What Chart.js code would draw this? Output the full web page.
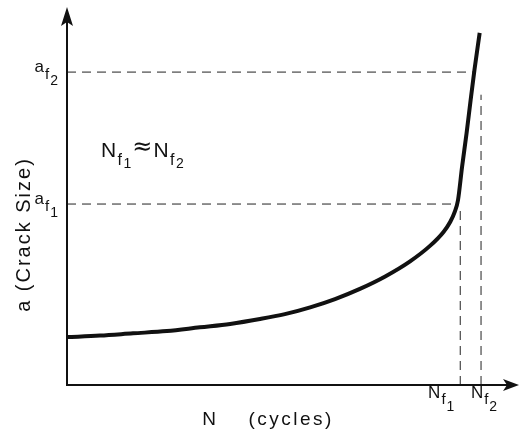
<!DOCTYPE html>
<html>
<head>
<meta charset="utf-8">
<script src="https://cdn.jsdelivr.net/npm/chart.js@4.4.1/dist/chart.umd.min.js"></script>
<style>
  html, body { margin: 0; padding: 0; background: #fff; }
  canvas { display: block; }
</style>
</head>
<body>
<canvas id="c" width="520" height="440"></canvas>
<script>
// Crack growth curve: crack size a against number of cycles N (arbitrary units 0..100)
const cycles    = [0, 7.3, 14.6, 22.1, 29.4, 36.1, 42.7, 48.2, 53.8, 59.3, 64.8, 70.4, 75.9, 80.3, 83.3, 84.8, 85.8, 86.5, 87.4, 88.4, 89.3, 90.15, 91.3];
const crackSize = [12.7, 13.1, 13.7, 14.3, 15.3, 16.2, 17.5, 18.8, 20.6, 22.8, 25.5, 28.8, 32.8, 36.9, 40.6, 43.3, 46.0, 49.0, 57.8, 66.8, 75.6, 83.6, 93.4];

// Critical crack sizes and the corresponding lives
const failSizes     = [48, 83];     // a_f1, a_f2
const failLives     = [87.0, 91.6]; // N_f1, N_f2
const sizeGuideEnds = [86.3, 90.1]; // where the a_f guides meet the curve
const lifeGuideTops = [47, 77];     // upper end of the N_f guides

// Tick labels: [main, subscript, sub-subscript]
const sizeTickLabels = [['a', 'f', '1'], ['a', 'f', '2']];
const lifeTickLabels = [['N', 'f', '1'], ['N', 'f', '2']];

const xTitle = 'N (cycles)';
const yTitle = 'a (Crack Size)';
const noteParts = [['N', 'f', '1'], ['≈'], ['N', 'f', '2']];

const FONT = '"Liberation Sans", Arial, sans-serif';
const INK = '#111';

const curveData = cycles.map((n, i) => ({ x: n, y: crackSize[i] }));

const guideSets = [];
failSizes.forEach((a, i) => {
  guideSets.push([{ x: 0, y: a }, { x: sizeGuideEnds[i], y: a }]);
  guideSets.push([{ x: failLives[i], y: 0 }, { x: failLives[i], y: lifeGuideTops[i] }]);
});

// Build text runs for a label with nested subscripts
function runsFor(parts, sizes, drops, family) {
  return parts.map((t, k) => ({ text: t, font: sizes[k] + 'px ' + (family || FONT), dy: drops[k] }));
}
function runsWidth(ctx, runs, gap) {
  let w = 0;
  runs.forEach((r, k) => {
    ctx.font = r.font;
    w += ctx.measureText(r.text).width + (k ? gap : 0);
  });
  return w;
}
function drawRuns(ctx, runs, x, y, gap) {
  runs.forEach((r, k) => {
    ctx.font = r.font;
    if (k) x += gap;
    ctx.fillText(r.text, x, y + r.dy);
    x += ctx.measureText(r.text).width;
  });
  return x;
}

const sketchPlugin = {
  id: 'sketch',
  afterDraw(chart) {
    const ctx = chart.ctx;
    const xs = chart.scales.x, ys = chart.scales.y;
    const x0 = xs.getPixelForValue(0), y0 = ys.getPixelForValue(0);
    const xEnd = xs.getPixelForValue(xs.max), yEnd = ys.getPixelForValue(ys.max);

    ctx.save();
    ctx.strokeStyle = INK;
    ctx.fillStyle = INK;
    ctx.lineWidth = 2;

    // axes
    ctx.beginPath();
    ctx.moveTo(x0, y0 + 1);
    ctx.lineTo(x0, yEnd + 14);
    ctx.moveTo(x0 - 1, y0);
    ctx.lineTo(xEnd - 12, y0);
    ctx.stroke();

    // arrow heads
    ctx.beginPath();
    ctx.moveTo(x0, yEnd - 1);
    ctx.lineTo(x0 + 6, yEnd + 18);
    ctx.lineTo(x0, yEnd + 14);
    ctx.lineTo(x0 - 6, yEnd + 18);
    ctx.closePath();
    ctx.fill();
    ctx.beginPath();
    ctx.moveTo(xEnd, y0);
    ctx.lineTo(xEnd - 16, y0 - 6);
    ctx.lineTo(xEnd - 12, y0);
    ctx.lineTo(xEnd - 16, y0 + 6);
    ctx.closePath();
    ctx.fill();

    ctx.textBaseline = 'alphabetic';
    ctx.textAlign = 'left';

    // crack-size tick labels, left of the axis
    sizeTickLabels.forEach((parts, i) => {
      const py = ys.getPixelForValue(failSizes[i]);
      const runs = runsFor(parts, [17, 15, 14], [0, 7, 13]);
      const w = runsWidth(ctx, runs, 1);
      drawRuns(ctx, runs, x0 - 9 - w, py, 1);
    });

    // life tick labels under the axis
    const lifeShift = [-19, 3];
    lifeTickLabels.forEach((parts, i) => {
      const px = xs.getPixelForValue(failLives[i]);
      const runs = runsFor(parts, [17, 15, 14], [0, 6, 13]);
      const w = runsWidth(ctx, runs, 1);
      drawRuns(ctx, runs, px + lifeShift[i] - w / 2, y0 + 13, 1);
    });

    // annotation N_f1 ≈ N_f2
    let nx = xs.getPixelForValue(7.5);
    const ny = ys.getPixelForValue(60.5);
    noteParts.forEach((parts) => {
      const runs = parts.length > 1
        ? runsFor(parts, [21, 16, 14], [0, 8, 11])
        : runsFor(parts, [24], [-3], '"DejaVu Sans", sans-serif');
      nx = drawRuns(ctx, runs, nx, ny, 1.5) + 1;
    });

    // axis titles
    ctx.letterSpacing = '2.5px';
    ctx.font = '19px ' + FONT;
    const words = xTitle.split(' ');
    const wordGap = 30;
    const widths = words.map(w => ctx.measureText(w).width);
    const total = widths.reduce((s, w) => s + w, 0) + wordGap * (words.length - 1);
    let tx = (x0 + xEnd) / 2 - 25 - total / 2;
    words.forEach((w, k) => {
      ctx.fillText(w, tx, y0 + 40);
      tx += widths[k] + wordGap;
    });

    ctx.letterSpacing = '2px';
    ctx.font = '20px ' + FONT;
    ctx.translate(30, (ys.getPixelForValue(0) + ys.getPixelForValue(100)) / 2 + 38);
    ctx.rotate(-Math.PI / 2);
    ctx.textAlign = 'center';
    ctx.fillText(yTitle, 0, 0);
    ctx.restore();
  }
};

new Chart(document.getElementById('c'), {
  type: 'line',
  data: {
    datasets: [
      {
        data: curveData,
        borderColor: INK,
        borderWidth: 4,
        pointRadius: 0,
        cubicInterpolationMode: 'monotone',
        fill: false
      },
      ...guideSets.map(d => ({
        data: d,
        borderColor: '#222',
        borderWidth: 1,
        borderDash: [9, 6],
        pointRadius: 0,
        tension: 0,
        fill: false
      }))
    ]
  },
  options: {
    responsive: false,
    animation: false,
    devicePixelRatio: 1,
    events: [],
    layout: { padding: { left: 67, right: 1, top: 8, bottom: 55 } },
    plugins: { legend: { display: false }, tooltip: { enabled: false } },
    scales: {
      x: { type: 'linear', min: 0, max: 100, display: false },
      y: { type: 'linear', min: 0, max: 100, display: false }
    }
  },
  plugins: [sketchPlugin]
});
</script>
</body>
</html>
